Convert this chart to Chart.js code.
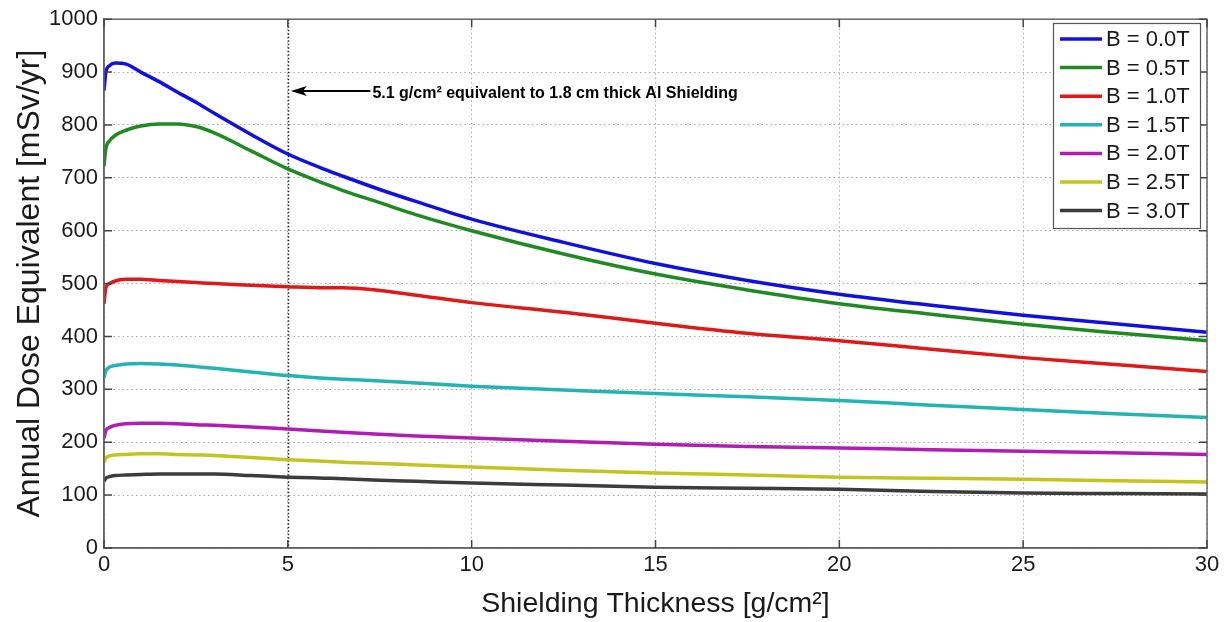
<!DOCTYPE html>
<html lang="en">
<head>
    <meta charset="UTF-8">
    <title>Annual Dose Equivalent vs Shielding Thickness</title>
    <script src="https://cdn.jsdelivr.net/npm/chart.js"></script>
    <style>
        body { margin: 0; background: #fff; }
        #doseChart { display: block; }
    </style>
</head>
<body>

<canvas id="doseChart" width="1225" height="622"></canvas>

<script>
// Shielding thickness samples [g/cm^2]
const thickness = [0, 0.05, 0.15, 0.3, 0.6, 1, 1.5, 2, 2.5, 3, 4, 5, 6, 6.5, 7.5, 8.5, 10, 12.5, 15, 17.5, 20, 22.5, 25, 27.5, 30];

// Annual dose equivalent [mSv/yr] for each field strength
const doseB00 = [865, 900, 912, 917, 915, 900, 882, 862, 843, 822, 782, 745, 716, 703, 678, 655, 622, 578, 538, 506, 480, 459, 440, 424, 408];
const doseB05 = [722, 755, 770, 780, 790, 798, 802, 802, 797, 785, 751, 717, 689, 676, 653, 630, 600, 556, 518, 488, 462, 442, 423, 407, 392];
const doseB10 = [462, 492, 500, 505, 508, 508, 506, 504, 502, 500, 497, 494, 492, 492, 487, 478, 464, 446, 425, 406, 392, 376, 360, 347, 334];
const doseB15 = [322, 335, 342, 345, 348, 349, 348, 346, 343, 340, 333, 326, 321, 319, 316, 312, 306, 299, 292, 286, 279, 270, 262, 254, 247];
const doseB20 = [208, 222, 228, 232, 235, 236, 236, 235, 233, 232, 229, 225, 221, 219, 215, 212, 208, 202, 196, 192, 189, 186, 183, 180, 177];
const doseB25 = [162, 170, 174, 176, 177, 178, 178, 177, 176, 175, 171, 167, 164, 162, 160, 157, 153, 147, 142, 138, 134, 132, 130, 127, 125];
const doseB30 = [126, 132, 135, 137, 138, 139, 140, 140, 140, 140, 137, 134, 132, 131, 128, 126, 123, 119, 115, 113, 111, 107, 104, 103, 102];

const fieldLabels = ['B = 0.0T', 'B = 0.5T', 'B = 1.0T', 'B = 1.5T', 'B = 2.0T', 'B = 2.5T', 'B = 3.0T'];
const allSeries = [doseB00, doseB05, doseB10, doseB15, doseB20, doseB25, doseB30];

// Axis ticks
const xTicks = [0, 5, 10, 15, 20, 25, 30];
const yTicks = [0, 100, 200, 300, 400, 500, 600, 700, 800, 900, 1000];

// Marker for the aluminium equivalent
const markerThickness = 5;
const markerText = '5.1 g/cm\u00B2 equivalent to 1.8 cm thick Al Shielding';

const lineColors = ['#1010e0', '#1f8a22', '#e01818', '#22b4b4', '#b01cb4', '#c4c420', '#3c3c3c'];

const datasets = allSeries.map((series, i) => ({
    label: fieldLabels[i],
    data: thickness.map((t, j) => ({ x: t, y: series[j] })),
    borderColor: lineColors[i],
    backgroundColor: lineColors[i],
    borderWidth: 3.5,
    pointRadius: 0,
    cubicInterpolationMode: 'monotone',
    fill: false
}));

// Matlab style frame: box, inner ticks, marker line, arrow note, legend
const matlabFrame = {
    id: 'matlabFrame',
    beforeDatasetsDraw(chart) {
        const { ctx, chartArea: a, scales: { x } } = chart;
        const px = Math.round(x.getPixelForValue(markerThickness)) + 0.5;
        ctx.save();
        ctx.strokeStyle = '#222';
        ctx.lineWidth = 1.5;
        ctx.setLineDash([1.5, 2]);
        ctx.beginPath();
        ctx.moveTo(px, a.top);
        ctx.lineTo(px, a.bottom);
        ctx.stroke();
        ctx.restore();
    },
    afterDraw(chart) {
        const { ctx, chartArea: a, scales: { x, y } } = chart;
        ctx.save();

        // box
        ctx.strokeStyle = '#666';
        ctx.lineWidth = 1.5;
        ctx.strokeRect(a.left, a.top, a.right - a.left, a.bottom - a.top);

        // inner ticks
        ctx.strokeStyle = '#444';
        ctx.lineWidth = 1.5;
        ctx.beginPath();
        xTicks.forEach(v => {
            const p = x.getPixelForValue(v);
            ctx.moveTo(p, a.bottom); ctx.lineTo(p, a.bottom - 8);
            ctx.moveTo(p, a.top); ctx.lineTo(p, a.top + 8);
        });
        yTicks.forEach(v => {
            const p = y.getPixelForValue(v);
            ctx.moveTo(a.left, p); ctx.lineTo(a.left + 8, p);
            ctx.moveTo(a.right, p); ctx.lineTo(a.right - 8, p);
        });
        ctx.stroke();

        // arrow note
        const ax = x.getPixelForValue(markerThickness) + 3;
        const ay = y.getPixelForValue(864);
        const tx = x.getPixelForValue(7.3);
        ctx.strokeStyle = '#000';
        ctx.fillStyle = '#000';
        ctx.lineWidth = 2;
        ctx.beginPath();
        ctx.moveTo(tx - 2, ay);
        ctx.lineTo(ax + 10, ay);
        ctx.stroke();
        ctx.beginPath();
        ctx.moveTo(ax, ay);
        ctx.lineTo(ax + 16, ay - 5);
        ctx.lineTo(ax + 12, ay);
        ctx.lineTo(ax + 16, ay + 5);
        ctx.closePath();
        ctx.fill();
        ctx.font = 'bold 16px "Liberation Sans", Arial, sans-serif';
        ctx.textBaseline = 'middle';
        ctx.textAlign = 'left';
        ctx.fillText(markerText, tx, ay + 2);

        // legend
        const lx = 1053, ly = 23, lw = 147, lh = 205;
        ctx.fillStyle = '#fff';
        ctx.fillRect(lx, ly, lw, lh);
        ctx.strokeStyle = '#555';
        ctx.lineWidth = 1.2;
        ctx.strokeRect(lx + 0.5, ly + 0.5, lw, lh);
        ctx.font = '22px "Liberation Sans", Arial, sans-serif';
        ctx.textBaseline = 'middle';
        chart.data.datasets.forEach((ds, i) => {
            const cy = ly + 16 + i * 28.6;
            ctx.strokeStyle = ds.borderColor;
            ctx.lineWidth = 3.5;
            ctx.beginPath();
            ctx.moveTo(lx + 7, cy);
            ctx.lineTo(lx + 49, cy);
            ctx.stroke();
            ctx.fillStyle = '#1a1a1a';
            ctx.fillText(ds.label, lx + 53, cy + 1);
        });

        ctx.restore();
    }
};

const tickFont = { family: '"Liberation Sans", Arial, sans-serif', size: 22 };

new Chart(document.getElementById('doseChart'), {
    type: 'line',
    data: { datasets: datasets },
    options: {
        responsive: false,
        animation: false,
        layout: { padding: { top: 18, right: 18, left: 0, bottom: 0 } },
        plugins: {
            legend: { display: false },
            tooltip: { enabled: false }
        },
        scales: {
            x: {
                type: 'linear',
                min: 0,
                max: 30,
                afterBuildTicks: s => { s.ticks = xTicks.map(v => ({ value: v })); },
                afterFit: s => { s.height = 74; },
                ticks: { font: tickFont, color: '#1a1a1a', padding: 4, callback: v => String(v) },
                grid: { color: '#a8a8a8', lineWidth: 1, drawTicks: false },
                border: { color: '#666', width: 1.5, dash: [1.5, 3] },
                title: {
                    display: true,
                    text: 'Shielding Thickness [g/cm\u00B2]',
                    font: { family: '"Liberation Sans", Arial, sans-serif', size: 28.5 },
                    color: '#1a1a1a',
                    padding: { top: 0, bottom: 1 }
                }
            },
            y: {
                min: 0,
                max: 1000,
                afterBuildTicks: s => { s.ticks = yTicks.map(v => ({ value: v })); },
                afterFit: s => { s.width = 104; },
                ticks: { font: tickFont, color: '#1a1a1a', padding: 6, callback: v => String(v) },
                grid: { color: '#a8a8a8', lineWidth: 1, drawTicks: false },
                border: { color: '#666', width: 1.5, dash: [1.5, 3] },
                title: {
                    display: true,
                    text: 'Annual Dose Equivalent [mSv/yr]',
                    font: { family: '"Liberation Sans", Arial, sans-serif', size: 32 },
                    color: '#1a1a1a',
                    padding: { top: 11, bottom: 0 }
                }
            }
        }
    },
    plugins: [matlabFrame]
});
</script>

</body>
</html>
